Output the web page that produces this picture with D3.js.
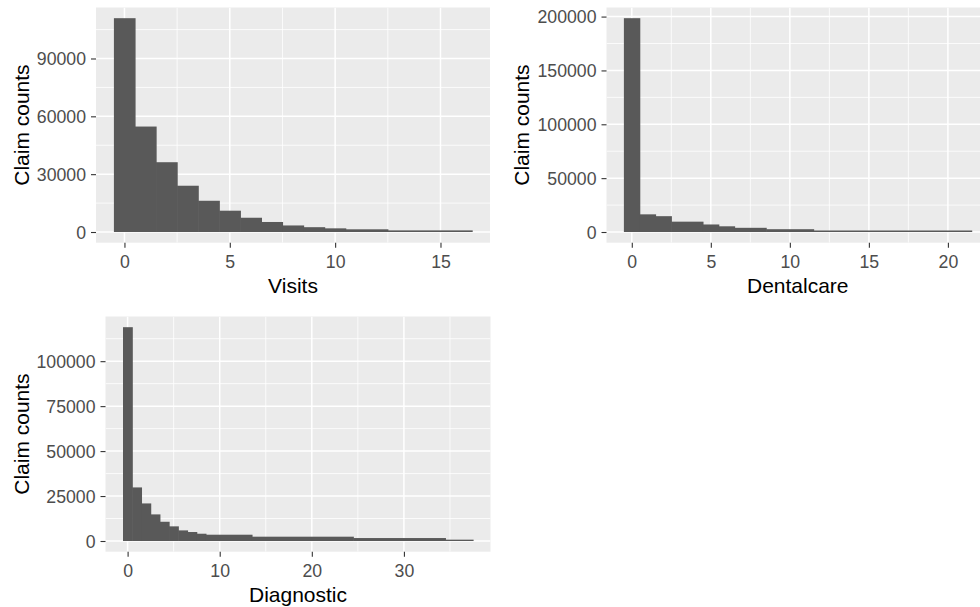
<!DOCTYPE html>
<html>
<head>
<meta charset="utf-8">
<script src="https://cdn.jsdelivr.net/npm/d3@7"></script>
<style>
  html, body { margin: 0; padding: 0; background: #ffffff; }
  svg { display: block; }
</style>
</head>
<body>
<svg id="chart" width="980" height="607"></svg>
<script>
// ---- Data ----
const visitsEdges   = [-0.5, 0.5, 1.5, 2.5, 3.5, 4.5, 5.5, 6.5, 7.5, 8.5, 9.5, 10.5, 12.5, 16.5];
const visitsCounts  = [110900, 54700, 36200, 24000, 16200, 11050, 7400, 5200, 3400, 2500, 1900, 1400, 850];
const visitsXTicks  = [0, 5, 10, 15];
const visitsYTicks  = [0, 30000, 60000, 90000];

const dentalEdges   = [-0.5, 0.5, 1.5, 2.5, 4.5, 5.5, 6.5, 8.5, 11.5, 21.5];
const dentalCounts  = [198500, 16400, 14700, 9600, 7000, 5300, 3900, 2600, 1400];
const dentalXTicks  = [0, 5, 10, 15, 20];
const dentalYTicks  = [0, 50000, 100000, 150000, 200000];

const diagEdges     = [-0.5, 0.5, 1.5, 2.5, 3.5, 4.5, 5.5, 6.5, 7.5, 8.5, 13.5, 24.5, 34.5, 37.5];
const diagCounts    = [118900, 29800, 20900, 14800, 10700, 8150, 5900, 5000, 4050, 3500, 2400, 1650, 750];
const diagXTicks    = [0, 10, 20, 30];
const diagYTicks    = [0, 25000, 50000, 75000, 100000];

const yTitle = "Claim counts";

// ---- Layout / style ----
const FONT = "'Liberation Sans', Arial, sans-serif";
const TICK_FS = 17.7, TITLE_FS = 21;
const svg = d3.select("#chart");

function minorBreaks(major, lo, hi) {
  const step = major[1] - major[0];
  const ext = [major[0] - step, ...major, major[major.length - 1] + step];
  const out = [];
  for (let i = 0; i < ext.length - 1; i++) {
    const m = (ext[i] + ext[i + 1]) / 2;
    if (m >= lo && m <= hi) out.push(m);
  }
  return out;
}

function panel(cfg) {
  const { box, edges, counts, xTicks, yTicks, xTitle, yTitleX, yTickRight } = cfg;
  const bins = counts.map((c, i) => ({ x0: edges[i], x1: edges[i + 1], n: c }));
  const xr = d3.extent(edges), xs = xr[1] - xr[0];
  const ymax = d3.max(counts);
  const x = d3.scaleLinear().domain([xr[0] - 0.05 * xs, xr[1] + 0.05 * xs]).range([box.l, box.r]);
  const y = d3.scaleLinear().domain([-0.05 * ymax, 1.05 * ymax]).range([box.b, box.t]);

  const g = svg.append("g");
  const clipId = "clip" + Math.round(box.l) + Math.round(box.t);
  svg.append("clipPath").attr("id", clipId).append("rect")
    .attr("x", box.l).attr("y", box.t).attr("width", box.r - box.l).attr("height", box.b - box.t);

  g.append("rect").attr("x", box.l).attr("y", box.t)
    .attr("width", box.r - box.l).attr("height", box.b - box.t).attr("fill", "#EBEBEB");

  const grid = g.append("g").attr("clip-path", `url(#${clipId})`);
  const xd = x.domain(), yd = y.domain();
  minorBreaks(xTicks, xd[0], xd[1]).forEach(v => {
    grid.append("line").attr("x1", x(v)).attr("x2", x(v)).attr("y1", box.t).attr("y2", box.b)
      .attr("stroke", "#ffffff").attr("stroke-width", 0.8);
  });
  minorBreaks(yTicks, yd[0], yd[1]).forEach(v => {
    grid.append("line").attr("y1", y(v)).attr("y2", y(v)).attr("x1", box.l).attr("x2", box.r)
      .attr("stroke", "#ffffff").attr("stroke-width", 0.8);
  });
  xTicks.forEach(v => {
    grid.append("line").attr("x1", x(v)).attr("x2", x(v)).attr("y1", box.t).attr("y2", box.b)
      .attr("stroke", "#ffffff").attr("stroke-width", 1.5);
  });
  yTicks.forEach(v => {
    grid.append("line").attr("y1", y(v)).attr("y2", y(v)).attr("x1", box.l).attr("x2", box.r)
      .attr("stroke", "#ffffff").attr("stroke-width", 1.5);
  });

  g.append("g").attr("clip-path", `url(#${clipId})`)
    .selectAll("rect.bar").data(bins).join("rect").attr("class", "bar")
    .attr("x", d => x(d.x0)).attr("width", d => x(d.x1) - x(d.x0) + 0.6)
    .attr("y", d => y(d.n)).attr("height", d => y(0) - y(d.n))
    .attr("fill", "#595959");

  // x axis
  const xa = g.append("g").attr("transform", `translate(0,${box.b})`)
    .call(d3.axisBottom(x).tickValues(xTicks).tickSize(5).tickSizeOuter(0).tickFormat(d3.format("d")));
  xa.select(".domain").remove();
  xa.selectAll(".tick line").attr("stroke", "#333333").attr("stroke-width", 1.1);
  xa.selectAll(".tick text").attr("y", 25).attr("dy", null)
    .attr("fill", "#4D4D4D").style("font-family", FONT).style("font-size", TICK_FS + "px");

  // y axis
  const ya = g.append("g").attr("transform", `translate(${box.l},0)`)
    .call(d3.axisLeft(y).tickValues(yTicks).tickSize(5).tickSizeOuter(0).tickFormat(d3.format("d")));
  ya.select(".domain").remove();
  ya.selectAll(".tick line").attr("stroke", "#333333").attr("stroke-width", 1.1);
  ya.selectAll(".tick text").attr("x", yTickRight - box.l).attr("dy", (0.36 * TICK_FS) + "px")
    .attr("fill", "#4D4D4D").style("font-family", FONT).style("font-size", TICK_FS + "px");

  // titles
  g.append("text").attr("x", (box.l + Math.min(box.r, 989)) / 2).attr("y", box.b + 50)
    .attr("text-anchor", "middle").attr("fill", "#000000")
    .style("font-family", FONT).style("font-size", TITLE_FS + "px").text(xTitle);
  g.append("text").attr("transform", `translate(${yTitleX},${(box.t + box.b) / 2}) rotate(-90)`)
    .attr("text-anchor", "middle").attr("fill", "#000000")
    .style("font-family", FONT).style("font-size", TITLE_FS + "px").text(yTitle);
}

panel({ box: { l: 96, t: 7.5, r: 490, b: 242.7 }, edges: visitsEdges, counts: visitsCounts,
  xTicks: visitsXTicks, yTicks: visitsYTicks, xTitle: "Visits", yTitleX: 28.5, yTickRight: 86 });
panel({ box: { l: 606.5, t: 7.5, r: 989, b: 242.7 }, edges: dentalEdges, counts: dentalCounts,
  xTicks: dentalXTicks, yTicks: dentalYTicks, xTitle: "Dentalcare", yTitleX: 529, yTickRight: 596.5 });
panel({ box: { l: 105.5, t: 316.5, r: 490.5, b: 551.7 }, edges: diagEdges, counts: diagCounts,
  xTicks: diagXTicks, yTicks: diagYTicks, xTitle: "Diagnostic", yTitleX: 29, yTickRight: 95.5 });
</script>
</body>
</html>
